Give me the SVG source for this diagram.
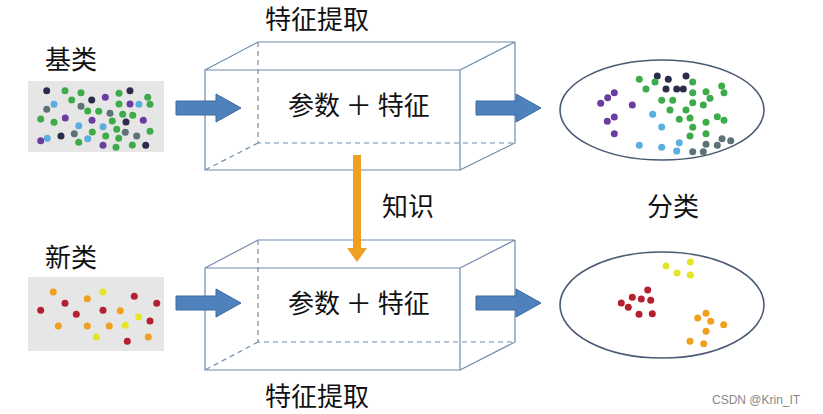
<svg xmlns="http://www.w3.org/2000/svg" width="823" height="414" viewBox="0 0 823 414">
<style>
text{font-family:"Noto Sans CJK SC","Liberation Sans",sans-serif;fill:#111}
.t{font-size:26px}
.box{fill:none;stroke:#6f8cab;stroke-width:1.2}
.d{fill:none;stroke:#6f8cab;stroke-width:1.2;stroke-dasharray:5,4}
.ell{fill:#fff;stroke:#4a5a72;stroke-width:1.6}
.ba{fill:#4f81bd;stroke:#3a6aa0;stroke-width:1}
.n{fill:#2b2b4a}.g{fill:#3dab4a}.p{fill:#6a3ea0}.b{fill:#5aaee0}.s{fill:#5b7377}
.o{fill:#f0a020}.y{fill:#e4e428}.r{fill:#b52030}
</style>
<defs>
<path id="arr" d="M0,-7 H40 V-14 L65,0 L40,14 V7 H0 Z"/>
</defs>
<rect width="823" height="414" fill="#fff"/>
<g id="base">
<text x="45" y="69" class="t">基类</text>
<rect x="28" y="81" width="136" height="71" fill="#e6e6e6"/>
<g class="n"><circle cx="46.7" cy="90.7" r="3.5"/><circle cx="130" cy="90.7" r="3.5"/><circle cx="91.7" cy="100" r="3.5"/><circle cx="126" cy="122" r="3.5"/><circle cx="61" cy="136" r="3.5"/><circle cx="145.7" cy="145.3" r="3.5"/></g>
<g class="g"><circle cx="65" cy="90.7" r="3.5"/><circle cx="81" cy="92.7" r="3.5"/><circle cx="119" cy="93.3" r="3.5"/><circle cx="147.7" cy="97.3" r="3.5"/><circle cx="71.7" cy="100" r="3.5"/><circle cx="119" cy="104" r="3.5"/><circle cx="150" cy="104.3" r="3.5"/><circle cx="87.7" cy="111" r="3.5"/><circle cx="98.7" cy="111.3" r="3.5"/><circle cx="122.7" cy="114.3" r="3.5"/><circle cx="132.7" cy="115.3" r="3.5"/><circle cx="40.7" cy="119" r="3.5"/><circle cx="54" cy="122.3" r="3.5"/><circle cx="112.3" cy="121" r="3.5"/><circle cx="116.7" cy="129.3" r="3.5"/><circle cx="92.3" cy="132" r="3.5"/><circle cx="105.7" cy="136" r="3.5"/><circle cx="118.7" cy="138.3" r="3.5"/><circle cx="150" cy="131.3" r="3.5"/><circle cx="78.7" cy="142.3" r="3.5"/><circle cx="116" cy="147.3" r="3.5"/><circle cx="132.3" cy="145" r="3.5"/></g>
<g class="p"><circle cx="105.3" cy="97.3" r="3.5"/><circle cx="130" cy="104" r="3.5"/><circle cx="65.3" cy="118" r="3.5"/><circle cx="92" cy="120.3" r="3.5"/><circle cx="143.3" cy="120.3" r="3.5"/><circle cx="40.7" cy="140.7" r="3.5"/><circle cx="103" cy="145.3" r="3.5"/></g>
<g class="b"><circle cx="54" cy="104.3" r="3.5"/><circle cx="139" cy="104.3" r="3.5"/><circle cx="78.7" cy="125.7" r="3.5"/><circle cx="103" cy="126.7" r="3.5"/><circle cx="47.3" cy="138.3" r="3.5"/><circle cx="87.7" cy="138.7" r="3.5"/></g>
<g class="s"><circle cx="46.7" cy="109.3" r="3.5"/><circle cx="81" cy="106.3" r="3.5"/><circle cx="110" cy="113.3" r="3.5"/><circle cx="74.3" cy="133.7" r="3.5"/><circle cx="125.3" cy="132.3" r="3.5"/><circle cx="136.7" cy="136" r="3.5"/></g>
</g>
<g id="novel">
<text x="45" y="267" class="t">新类</text>
<rect x="28" y="277" width="136" height="74" fill="#e6e6e6"/>
<g class="o"><circle cx="53.3" cy="292" r="3.5"/><circle cx="87.3" cy="298.7" r="3.5"/><circle cx="120.3" cy="310.7" r="3.5"/><circle cx="58.3" cy="326" r="3.5"/><circle cx="87.3" cy="326" r="3.5"/><circle cx="109.3" cy="326" r="3.5"/><circle cx="148.3" cy="337" r="3.5"/></g>
<g class="y"><circle cx="103" cy="292" r="3.5"/><circle cx="138.7" cy="317" r="3.5"/><circle cx="125.3" cy="325.3" r="3.5"/><circle cx="96.3" cy="337" r="3.5"/></g>
<g class="r"><circle cx="134.3" cy="296.3" r="3.5"/><circle cx="156.7" cy="303.3" r="3.5"/><circle cx="65" cy="303.3" r="3.5"/><circle cx="40.7" cy="310.3" r="3.5"/><circle cx="76.3" cy="314.3" r="3.5"/><circle cx="103" cy="310.3" r="3.5"/><circle cx="150" cy="321" r="3.5"/><circle cx="127.3" cy="341.3" r="3.5"/></g>
</g>
<g id="cube1">
<text x="265" y="29" class="t">特征提取</text>
<path class="d" d="M258,42 V143 H515 M258,143 L205,170"/>
<path class="box" d="M205,70 H460 V170 H205 Z M205,70 L258,42 H515 L460,70 M515,42 V143 L460,170"/>
<text x="288" y="115" class="t">参数 ＋ 特征</text>
</g>
<g id="cube2">
<text x="265" y="406" class="t">特征提取</text>
<path class="d" d="M258,240 V342 H515 M258,342 L205,370"/>
<path class="box" d="M205,268 H460 V370 H205 Z M205,268 L258,240 H515 L460,268 M515,240 V342 L460,370"/>
<text x="288" y="313" class="t">参数 ＋ 特征</text>
</g>
<g id="result1">
<ellipse class="ell" cx="662" cy="110" rx="102" ry="50"/>
<g class="n"><circle cx="657.3" cy="76" r="3.5"/><circle cx="668.3" cy="79.3" r="3.5"/><circle cx="686" cy="76" r="3.5"/><circle cx="666" cy="89" r="3.5"/><circle cx="676.7" cy="89" r="3.5"/><circle cx="683.3" cy="89" r="3.5"/></g>
<g class="g"><circle cx="639.3" cy="79.3" r="3.5"/><circle cx="655" cy="82" r="3.5"/><circle cx="692.7" cy="82" r="3.5"/><circle cx="721.7" cy="86" r="3.5"/><circle cx="646" cy="89" r="3.5"/><circle cx="692.7" cy="92.7" r="3.5"/><circle cx="706" cy="91.7" r="3.5"/><circle cx="724" cy="92.7" r="3.5"/><circle cx="710" cy="98.3" r="3.5"/><circle cx="661.7" cy="100.3" r="3.5"/><circle cx="672.7" cy="100.3" r="3.5"/><circle cx="692.7" cy="102.7" r="3.5"/><circle cx="703.3" cy="105" r="3.5"/><circle cx="670" cy="110" r="3.5"/><circle cx="686" cy="110" r="3.5"/><circle cx="679.3" cy="119.3" r="3.5"/><circle cx="690" cy="118" r="3.5"/><circle cx="706" cy="122.3" r="3.5"/><circle cx="717.3" cy="116.7" r="3.5"/><circle cx="724" cy="120.3" r="3.5"/><circle cx="692.7" cy="127.3" r="3.5"/><circle cx="706" cy="133.7" r="3.5"/><circle cx="690" cy="136" r="3.5"/></g>
<g class="p"><circle cx="614.3" cy="92.7" r="3.5"/><circle cx="607.7" cy="97.7" r="3.5"/><circle cx="600.7" cy="103.3" r="3.5"/><circle cx="632.3" cy="105" r="3.5"/><circle cx="614.3" cy="117" r="3.5"/><circle cx="607.3" cy="121.3" r="3.5"/><circle cx="614.3" cy="133.7" r="3.5"/></g>
<g class="b"><circle cx="652.7" cy="114.3" r="3.5"/><circle cx="661.7" cy="127" r="3.5"/><circle cx="639.3" cy="145.3" r="3.5"/><circle cx="661.7" cy="147.3" r="3.5"/><circle cx="679.3" cy="142.7" r="3.5"/><circle cx="676.7" cy="151" r="3.5"/></g>
<g class="s"><circle cx="706" cy="144.3" r="3.5"/><circle cx="722" cy="138.7" r="3.5"/><circle cx="730.7" cy="140.7" r="3.5"/><circle cx="717.3" cy="145.3" r="3.5"/><circle cx="692.7" cy="151.7" r="3.5"/><circle cx="703.3" cy="151.7" r="3.5"/></g>
<text x="647" y="216" class="t">分类</text>
</g>
<g id="result2">
<ellipse class="ell" cx="662" cy="305" rx="102" ry="53"/>
<g class="y"><circle cx="666" cy="266" r="3.5"/><circle cx="690.3" cy="262" r="3.5"/><circle cx="677" cy="273" r="3.5"/><circle cx="690.3" cy="275" r="3.5"/></g>
<g class="r"><circle cx="647.7" cy="290" r="3.5"/><circle cx="632.3" cy="297.3" r="3.5"/><circle cx="641.3" cy="299" r="3.5"/><circle cx="650.7" cy="300.3" r="3.5"/><circle cx="621.3" cy="303" r="3.5"/><circle cx="628.3" cy="307.3" r="3.5"/><circle cx="639" cy="314.3" r="3.5"/><circle cx="652.3" cy="313.7" r="3.5"/></g>
<g class="o"><circle cx="706" cy="313.3" r="3.5"/><circle cx="697.7" cy="318" r="3.5"/><circle cx="710.7" cy="321.3" r="3.5"/><circle cx="723.7" cy="324.7" r="3.5"/><circle cx="706" cy="331.3" r="3.5"/><circle cx="690" cy="341.3" r="3.5"/><circle cx="703.7" cy="343.7" r="3.5"/></g>
</g>
<g id="connectors">
<use href="#arr" class="ba" transform="translate(176,108)"/>
<use href="#arr" class="ba" transform="translate(476,108)"/>
<use href="#arr" class="ba" transform="translate(176,303)"/>
<use href="#arr" class="ba" transform="translate(476,303)"/>
<path d="M353,155 H361 V248 H367 L357,262 L347,248 H353 Z" fill="#f0a020"/>
<text x="382" y="216" class="t">知识</text>
</g>
<text x="712" y="404" style="font-size:12px;fill:#888;font-family:'Liberation Sans',sans-serif">CSDN @Krin_IT</text>
</svg>
